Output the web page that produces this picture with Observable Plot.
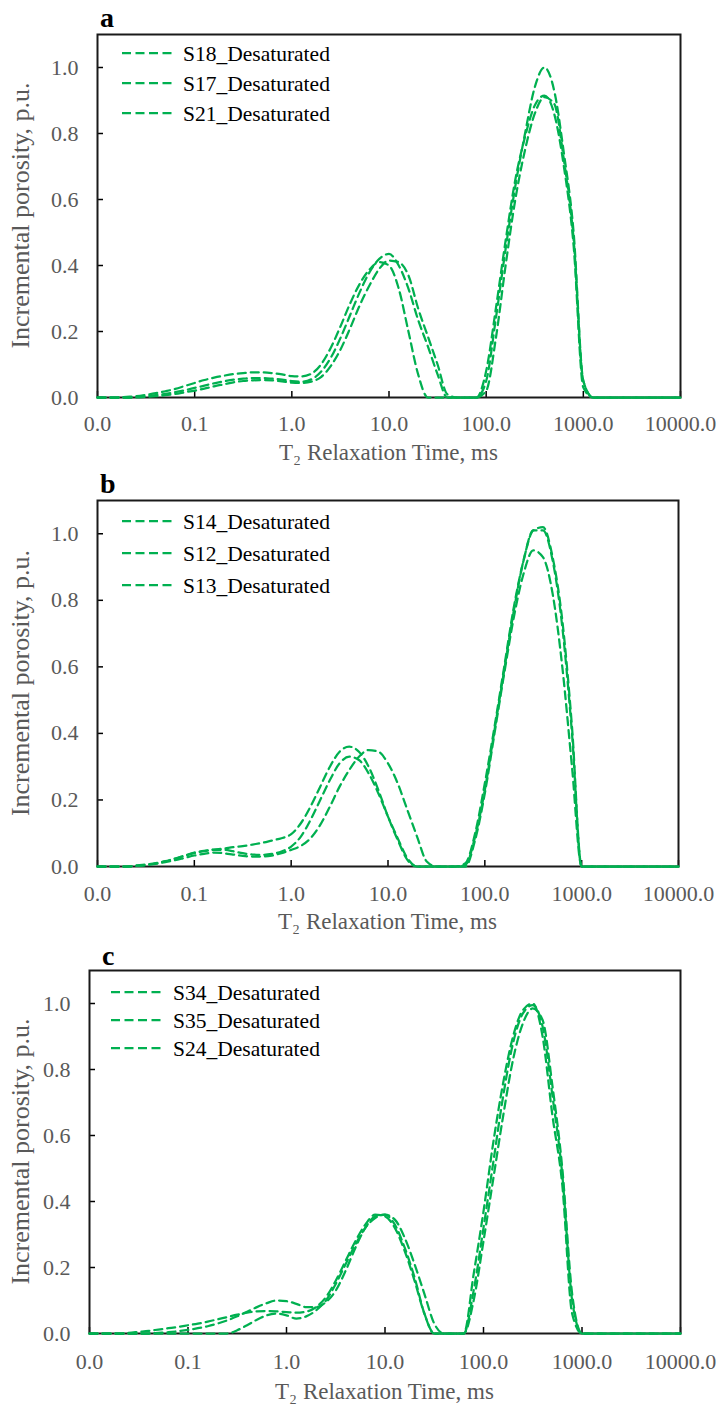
<!DOCTYPE html>
<html><head><meta charset="utf-8">
<script src="https://cdn.jsdelivr.net/npm/d3@7"></script>
<script src="https://cdn.jsdelivr.net/npm/@observablehq/plot@0.6"></script>
<style>
body{margin:0;background:#fff;}
#chart{width:722px;height:1409px;}
#chart svg{display:block;}
</style></head><body><div id="chart"></div>
<script>
// log10 of T2 (ms) sampling grid
const logT = [-2.0,-1.9,-1.8,-1.7,-1.6,-1.5,-1.4,-1.3,-1.2,-1.1,-1.0,-0.9,-0.8,-0.7,-0.6,-0.5,-0.4,-0.3,-0.2,-0.1,
  0.0,0.1,0.2,0.3,0.4,0.5,0.6,0.7,0.8,0.9,1.0,1.1,1.2,1.3,1.4,1.5,1.6,1.7,1.8,1.9,
  2.0,2.1,2.2,2.3,2.4,2.5,2.6,2.7,2.8,2.9,3.0,3.1,3.2,3.3,3.4,3.5,3.6,3.7,3.8,3.9,4.0];
const xTicks = [0.01, 0.1, 1, 10, 100, 1000, 10000];
const yTicks = [0, 0.2, 0.4, 0.6, 0.8, 1.0];
const xTitle = "T₂ Relaxation Time, ms";
const yTitle = "Incremental porosity, p.u.";

// Panel a
const namesA = ["S18_Desaturated", "S17_Desaturated", "S21_Desaturated"];
const a1 = [0,0,0,0.002,0.004,0.008,0.013,0.019,0.026,0.035,0.044,0.053,0.060,0.066,0.071,0.074,0.076,0.076,0.074,0.070,
  0.065,0.064,0.072,0.10,0.15,0.215,0.285,0.345,0.388,0.41,0.40,0.33,0.20,0.07,0,0,0,0,0,0,
  0.08,0.27,0.475,0.66,0.79,0.885,0.915,0.86,0.70,0.46,0.03,0,0,0,0,0,0,0,0,0,0];
const a2 = [0,0,0,0,0.002,0.004,0.007,0.011,0.016,0.022,0.029,0.036,0.043,0.049,0.054,0.057,0.059,0.059,0.057,0.054,
  0.050,0.048,0.055,0.078,0.12,0.18,0.25,0.32,0.38,0.42,0.435,0.40,0.33,0.235,0.155,0.07,0,0,0,0,
  0.05,0.24,0.45,0.64,0.80,0.94,1.0,0.93,0.74,0.50,0.05,0,0,0,0,0,0,0,0,0,0];
const a3 = [0,0,0,0,0,0.002,0.004,0.007,0.011,0.016,0.021,0.027,0.034,0.040,0.046,0.050,0.052,0.053,0.052,0.049,
  0.045,0.044,0.048,0.062,0.095,0.145,0.21,0.28,0.34,0.39,0.415,0.41,0.37,0.27,0.185,0.10,0.01,0,0,0,
  0.02,0.18,0.40,0.60,0.75,0.86,0.91,0.89,0.72,0.48,0.05,0,0,0,0,0,0,0,0,0,0];

// Panel b
const namesB = ["S14_Desaturated", "S12_Desaturated", "S13_Desaturated"];
const b1 = [0,0,0,0,0.003,0.006,0.010,0.016,0.024,0.033,0.042,0.047,0.051,0.054,0.058,0.061,0.066,0.071,0.078,0.085,
  0.097,0.13,0.18,0.24,0.30,0.345,0.36,0.345,0.30,0.23,0.15,0.08,0.02,0,0,0,0,0,0.01,0.10,
  0.25,0.42,0.60,0.78,0.92,1.01,1.01,0.92,0.72,0.40,0,0,0,0,0,0,0,0,0,0,0];
const b2 = [0,0,0,0,0.002,0.005,0.009,0.015,0.023,0.032,0.040,0.046,0.050,0.050,0.046,0.040,0.036,0.035,0.038,0.045,
  0.06,0.09,0.14,0.20,0.26,0.31,0.33,0.32,0.28,0.22,0.15,0.085,0.025,0,0,0,0,0,0,0.08,
  0.22,0.40,0.58,0.75,0.88,0.95,0.93,0.82,0.60,0.30,0,0,0,0,0,0,0,0,0,0,0];
const b3 = [0,0,0,0,0.002,0.004,0.008,0.013,0.019,0.026,0.033,0.038,0.042,0.040,0.036,0.032,0.030,0.030,0.033,0.040,
  0.050,0.062,0.085,0.125,0.18,0.24,0.29,0.33,0.35,0.345,0.31,0.25,0.17,0.09,0.015,0,0,0,0.005,0.09,
  0.23,0.41,0.59,0.77,0.92,1.01,1.02,0.93,0.74,0.42,0,0,0,0,0,0,0,0,0,0,0];

// Panel c
const namesC = ["S34_Desaturated", "S35_Desaturated", "S24_Desaturated"];
const c1 = [0,0,0,0,0,0,0,0.002,0.004,0.007,0.011,0.016,0.022,0.030,0.040,0.052,0.066,0.080,0.092,0.100,
  0.098,0.090,0.080,0.080,0.095,0.13,0.19,0.26,0.32,0.355,0.36,0.33,0.26,0.17,0.06,0,0,0,0,0.18,
  0.37,0.58,0.76,0.90,0.98,1.0,0.90,0.66,0.45,0.06,0,0,0,0,0,0,0,0,0,0,0];
const c2 = [0,0,0,0,0.002,0.005,0.008,0.012,0.016,0.020,0.025,0.030,0.036,0.043,0.050,0.057,0.063,0.067,0.068,0.067,
  0.065,0.063,0.066,0.08,0.11,0.16,0.22,0.28,0.33,0.36,0.355,0.32,0.25,0.16,0.06,0,0,0,0,0.13,
  0.32,0.52,0.72,0.88,0.97,0.995,0.93,0.72,0.48,0.10,0,0,0,0,0,0,0,0,0,0,0];
const c3 = [0,0,0,0,0,0,0,0,0,0,0,0,0,0,0,0.01,0.025,0.042,0.055,0.060,
  0.055,0.045,0.052,0.07,0.10,0.15,0.21,0.27,0.32,0.35,0.36,0.345,0.29,0.21,0.12,0.03,0,0,0,0.10,
  0.28,0.47,0.66,0.83,0.94,0.985,0.95,0.75,0.50,0.12,0,0,0,0,0,0,0,0,0,0,0];

const GREEN = "#00B050";
const GRAY = "#595959";
const FONT = "'Liberation Serif', 'Times New Roman', serif";

const panels = [
  {letter: "a", names: namesA, series: [a1, a2, a3], height: 468, mt: 34, mb: 71, ml: 97, mr: 42,
   pad: 18, titleDy: 63, letterX: 100, letterY: 27, legY: [53, 83, 113], legX1: 122, legX2: 175, legTX: 183},
  {letter: "b", names: namesB, series: [b1, b2, b3], height: 469, mt: 32, mb: 71, ml: 97, mr: 44,
   pad: 19, titleDy: 63, letterX: 100, letterY: 25, legY: [53, 85, 117], legX1: 122, legX2: 175, legTX: 183},
  {letter: "c", names: namesC, series: [c1, c2, c3], height: 472, mt: 33, mb: 76, ml: 89, mr: 42,
   pad: 20, titleDy: 66, letterX: 102, letterY: 28, legY: [55, 83, 111], legX1: 111, legX2: 165, legTX: 173}
];

const chart = document.getElementById("chart");
for (const p of panels) {
  const data = [];
  p.series.forEach((vals, k) => vals.forEach((v, i) => data.push({T: Math.pow(10, logT[i]), v, s: p.names[k]})));
  const fh = p.height - p.mt - p.mb;
  const fw = 722 - p.ml - p.mr;
  const svg = Plot.plot({
    width: 722, height: p.height,
    marginTop: p.mt, marginBottom: p.mb, marginLeft: p.ml, marginRight: p.mr,
    style: {fontFamily: FONT, background: "white", overflow: "visible"},
    x: {type: "log", domain: [0.01, 10000]},
    y: {domain: [0, 1.1]},
    marks: [
      Plot.axisX({ticks: xTicks, tickFormat: d => d.toFixed(1), tickSize: 0, tickPadding: p.pad, fontSize: 22, label: null}),
      Plot.axisY({ticks: yTicks, tickFormat: d => d.toFixed(1), tickSize: 0, tickPadding: 19, fontSize: 22, label: null}),
      Plot.ruleX(xTicks, {stroke: "black", strokeWidth: 1.5, insetTop: fh - 6}),
      Plot.ruleY(yTicks, {stroke: "black", strokeWidth: 1.5, insetRight: fw - 6}),
      Plot.frame({stroke: "#1a1a1a", strokeWidth: 2}),
      Plot.line(data, {x: "T", y: "v", z: "s", stroke: GREEN, strokeWidth: 2.25, strokeDasharray: "8,5", curve: "monotone-x"})
    ]
  });
  const s = d3.select(svg);
  s.selectAll('[aria-label$="tick label"]').attr("fill", GRAY);
  const addText = (x, y, txt, size, fill, anchor) => s.append("text").attr("x", x).attr("y", y)
    .attr("text-anchor", anchor).attr("font-size", size).attr("fill", fill)
    .style("font-family", FONT).text(txt);
  // x title
  addText(p.ml + fw / 2, p.mt + fh + p.titleDy, xTitle, 23, GRAY, "middle");
  // y title
  addText(0, 0, yTitle, 26, GRAY, "middle").attr("transform", `translate(29,${p.mt + fh / 2}) rotate(-90)`);
  // panel letter
  addText(p.letterX, p.letterY, p.letter, 28, "black", "start").attr("font-weight", "bold");
  // legend
  p.names.forEach((n, i) => {
    s.append("line").attr("x1", p.legX1).attr("x2", p.legX2).attr("y1", p.legY[i]).attr("y2", p.legY[i])
      .attr("stroke", GREEN).attr("stroke-width", 2.25).attr("stroke-dasharray", "9,4.5");
    addText(p.legTX, p.legY[i], n, 21.5, "black", "start").attr("dy", "0.35em");
  });
  chart.appendChild(svg);
}
</script></body></html>
